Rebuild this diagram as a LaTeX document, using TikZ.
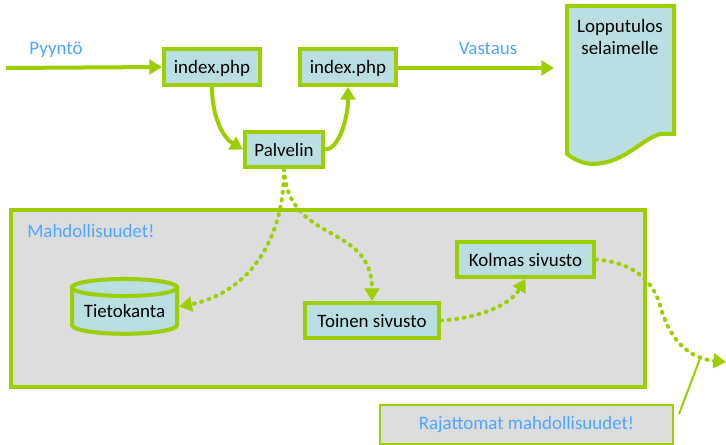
\documentclass[tikz,border=0pt]{standalone}
\usepackage{fontspec}
\setmainfont{Carlito}
\usetikzlibrary{arrows.meta}

\definecolor{vihrea}{HTML}{9BCF00}
\definecolor{sininen}{HTML}{B9DFE3}
\definecolor{harmaa}{HTML}{DDDDDD}
\definecolor{otsikko}{HTML}{4DA6FF}

\tikzset{
    laatikko/.style={draw=vihrea,line width=3pt,fill=sininen,inner sep=0pt,text height=12.5pt,text depth=2pt,font=\fontsize{14.2}{16}\selectfont},
    otsikkoteksti/.style={text=otsikko,inner sep=0pt,text height=12.5pt,text depth=2pt,font=\fontsize{14.2}{16}\selectfont},
    nuoli/.style={draw=vihrea,line width=3pt,-{Triangle[length=9.5pt,width=11pt]}},
    pisteet/.style={nuoli,line cap=round,dash pattern=on 0.8pt off 4.9pt}
}

\begin{document}
\begin{tikzpicture}[x=0.75pt,y=-0.75pt]
    \useasboundingbox (0,0) rectangle (726,445);

    % Grey area behind the lower boxes
    \node[draw=vihrea,line width=3pt,fill=harmaa,minimum width=475.5pt,minimum height=132.75pt] (alue) at (328,298.5) {};
    \node[otsikkoteksti,anchor=west] (mahd) at (27,231) {Mahdollisuudet!};

    % Upper row of boxes
    \node[laatikko,minimum width=72pt,minimum height=27pt] (index1) at (212,67) {index.php};
    \node[laatikko,minimum width=72pt,minimum height=27pt] (index2) at (348,67) {index.php};
    \node[laatikko,minimum width=58.5pt,minimum height=26.25pt] (palvelin) at (284,149.5) {Palvelin};

    % The page that goes back to the browser
    \draw[draw=vihrea,line width=3pt,fill=sininen] (567,6) -- (674,6) -- (674,134) -- (660,134)
        .. controls (640,140) and (625,163) .. (593,164)
        .. controls (582,164) and (572,158) .. (567,154) -- cycle;
    \node[align=center,inner sep=0pt,font=\fontsize{14.2}{16.5}\selectfont] (lopputulos) at (620,37) {Lopputulos\\selaimelle};

    % The database: body first, then its lid
    \draw[draw=vihrea,line width=3pt,fill=sininen] (72,287.5) -- (72,325)
        arc[start angle=180,end angle=360,x radius=39.4pt,y radius=6.6pt] -- (177,287.5) -- cycle;
    \draw[draw=vihrea,line width=3pt,fill=sininen] (124.5,287.5) ellipse[x radius=39.4pt,y radius=6.4pt];
    \node[inner sep=0pt,text height=17.8pt,text depth=2pt,font=\fontsize{14.2}{16}\selectfont,
        minimum width=81.75pt,minimum height=44.25pt] (tietokanta) at (124.5,306.5) {Tietokanta};

    % Lower boxes
    \node[laatikko,minimum width=100.5pt,minimum height=26.25pt] (toinen) at (372,320.5) {Toinen sivusto};
    \node[laatikko,minimum width=102.75pt,minimum height=26.25pt] (kolmas) at (525.5,259.5) {Kolmas sivusto};

    % Note at the bottom
    \node[draw=vihrea,line width=1.5pt,fill=harmaa,text=otsikko,inner sep=0pt,font=\fontsize{14.2}{16}\selectfont,
        minimum width=219.75pt,minimum height=29.25pt] (rajattomat) at (526.5,424.5) {Rajattomat mahdollisuudet!};

    % Free ends of the arrows
    \coordinate (alku) at (6,68);
    \coordinate (selain) at (554,68);
    \coordinate (loppu) at (726,362);
    \coordinate (huomio) at (701,356);
    \coordinate (huomioalku) at (679,414);

    % Labels over the arrows
    \node[otsikkoteksti] (pyynto) at (56,47.5) {Pyyntö};
    \node[otsikkoteksti] (vastaus) at (488,48) {Vastaus};

    % Solid arrows
    \draw[nuoli] (alku) -- (index1.west);
    \draw[nuoli] (index2.east |- selain) -- (selain);
    \draw[nuoli] (index1.south) .. controls (212,115) and (222,137) .. (palvelin.west);
    \draw[nuoli] (palvelin.east) .. controls (338,150) and (348,120) .. (index2.south);

    % Dotted arrows
    \draw[pisteet] (palvelin.south) .. controls (284,250) and (240,295) .. (tietokanta.east);
    \draw[pisteet] (palvelin.south) .. controls (288,245) and (372,222) .. (toinen.north);
    \draw[pisteet] (toinen.east) .. controls (480,318) and (510,305) .. (kolmas.south);
    \draw[pisteet] (kolmas.east) .. controls (630,262) and (652,278) .. (660,305)
        .. controls (668,335) and (685,358) .. (loppu);

    % Thin line from the note
    \draw[draw=vihrea,line width=1.5pt] (huomioalku) -- (huomio);
\end{tikzpicture}
\end{document}
